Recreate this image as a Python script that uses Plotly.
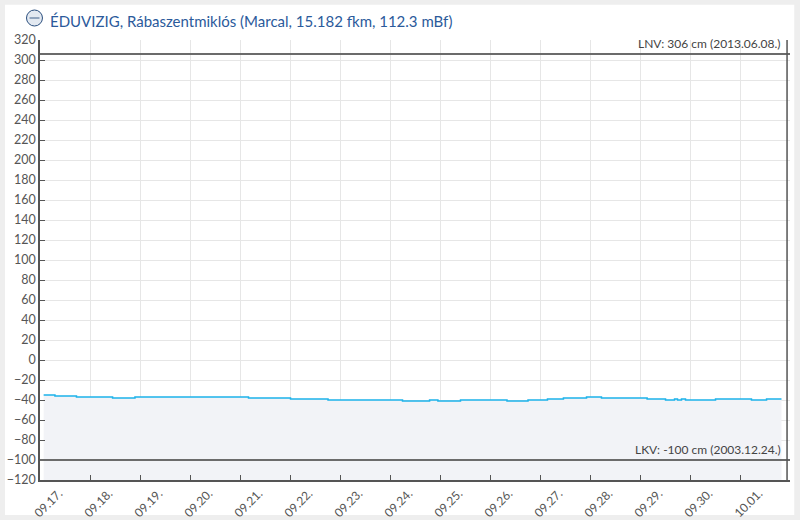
import plotly.graph_objects as go

# ---- data ----
times = [
    "2023-09-17 01:45", "2023-09-17 07:10", "2023-09-17 17:30", "2023-09-18 10:50",
    "2023-09-18 21:35", "2023-09-21 04:05", "2023-09-22 00:15", "2023-09-22 18:15",
    "2023-09-24 06:00", "2023-09-24 19:00", "2023-09-24 23:00", "2023-09-25 09:50",
    "2023-09-26 08:10", "2023-09-26 18:15", "2023-09-27 03:35", "2023-09-27 11:15",
    "2023-09-27 22:20", "2023-09-28 05:30", "2023-09-29 03:25", "2023-09-29 12:15",
    "2023-09-29 16:35", "2023-09-29 18:00", "2023-09-29 19:55", "2023-09-29 21:50",
    "2023-09-30 12:15", "2023-10-01 05:30", "2023-10-01 12:45", "2023-10-01 19:55",
]
levels = [
    -35, -36, -37, -38,
    -37, -38, -39, -40,
    -41, -40, -41, -40,
    -41, -40, -39, -38,
    -37, -38, -39, -40,
    -39, -40, -39, -40,
    -39, -40, -39, -39,
]
lnv_value = 306
lnv_label = "LNV: 306 cm (2013.06.08.)"
lkv_value = -100
lkv_label = "LKV: -100 cm (2003.12.24.)"
now_time = "2023-10-01 22:35"
x_range = ["2023-09-17 00:00", "2023-10-02 00:00"]
y_range = [-120, 320]
title_text = "ÉDUVIZIG, Rábaszentmiklós (Marcal, 15.182 fkm, 112.3 mBf)"

FONT = "Lato"
AXIS_COL = "#555555"
GRID_COL = "#e6e6e6"

fig = go.Figure()
fig.add_trace(go.Scatter(x=[times[0], times[-1]], y=[y_range[0], y_range[0]],
                         mode="lines", line=dict(width=0), hoverinfo="skip",
                         showlegend=False))
fig.add_trace(go.Scatter(x=times, y=levels, mode="lines", line_shape="hv",
                         line=dict(color="#1db3ea", width=1.5),
                         fill="tonexty", fillcolor="#f2f3f7", showlegend=False))

shapes = [
    # white panel
    dict(type="rect", xref="paper", yref="paper", x0=-0.0467, x1=1.0057,
         y0=-0.0795, y1=1.0802, fillcolor="white", line=dict(width=0), layer="below"),
    # logo
    dict(type="circle", xref="paper", yref="paper", x0=-0.0180, x1=0.0033,
         y0=1.0318, y1=1.0682, fillcolor="#e3e9f1", line=dict(color="#2b4f7e", width=1)),
    dict(type="rect", xref="paper", yref="paper", x0=-0.0140, x1=-0.0007,
         y0=1.0490, y1=1.0510, fillcolor="#2b4f7e", line=dict(width=0)),
    # LNV / LKV
    dict(type="line", xref="paper", yref="y", x0=0, x1=1, y0=lnv_value, y1=lnv_value,
         line=dict(color="#6b6b6b", width=2)),
    dict(type="line", xref="paper", yref="y", x0=0, x1=1, y0=lkv_value, y1=lkv_value,
         line=dict(color="#6b6b6b", width=2)),
    # now line
    dict(type="line", xref="x", yref="paper", x0=now_time, x1=now_time, y0=0, y1=1,
         line=dict(color=AXIS_COL, width=1.5)),
]

annotations = [
    dict(text=title_text, xref="paper", yref="paper", x=0.0105, y=1.043,
         xanchor="left", yanchor="middle", showarrow=False,
         font=dict(family=FONT, size=15, color="#2b5a9b")),
    dict(text=lnv_label, xref="paper", yref="y", x=0.990, y=lnv_value,
         xanchor="right", yanchor="bottom", yshift=1, showarrow=False,
         font=dict(family=FONT, size=12, color="#444444")),
    dict(text=lkv_label, xref="paper", yref="y", x=0.990, y=lkv_value,
         xanchor="right", yanchor="bottom", yshift=1, showarrow=False,
         font=dict(family=FONT, size=12, color="#444444")),
]

fig.update_layout(
    width=800, height=520,
    margin=dict(l=40, r=10, t=40, b=40, autoexpand=False),
    paper_bgcolor="#eeeeee", plot_bgcolor="white",
    shapes=shapes, annotations=annotations,
    font=dict(family=FONT, size=12, color=AXIS_COL),
    showlegend=False,
)
fig.update_xaxes(type="date", range=x_range, tick0="2023-09-17", dtick=86400000,
                 tickformat="%m.%d.", tickangle=-45, ticks="inside", ticklen=5,
                 tickcolor=AXIS_COL, showline=True, linecolor=AXIS_COL, linewidth=1.5,
                 showgrid=True, gridcolor=GRID_COL, zeroline=False, automargin=False,
                 tickfont=dict(family=FONT, size=12, color="#555555"),
                 ticklabelshift=19)
fig.update_yaxes(range=y_range, dtick=20, ticks="inside", ticklen=5,
                 tickcolor=AXIS_COL, showline=True, linecolor=AXIS_COL, linewidth=1.5,
                 showgrid=True, gridcolor=GRID_COL, zeroline=False, automargin=False,
                 tickfont=dict(family=FONT, size=12.5, color="#555555"))

fig.write_html(
    "out.html",
    config={"displayModeBar": False},
    post_script="document.body.style.margin='0';document.body.style.overflow='hidden';"
                "document.body.style.background='#eeeeee';",
)
